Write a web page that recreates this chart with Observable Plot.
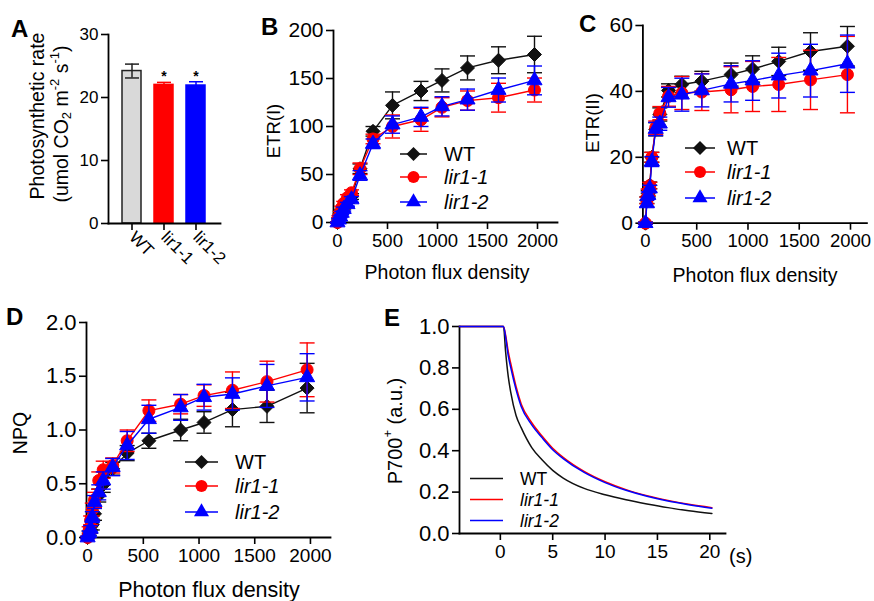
<!DOCTYPE html>
<html><head><meta charset="utf-8">
<script src="https://cdn.jsdelivr.net/npm/d3@7"></script>
<script src="https://cdn.jsdelivr.net/npm/@observablehq/plot@0.6"></script>
<style>
html,body{margin:0;padding:0;background:#fff;}
#fig{position:relative;width:874px;height:601px;overflow:hidden;background:#fff;}
</style></head><body><div id="fig"></div>
<script>
const W = 874, H = 601;
const FONT = "'Liberation Sans', Arial, Helvetica, sans-serif";

// ---- shared series info ----
const groups = ["WT", "lir1-1", "lir1-2"];
const colors = ["#111111", "#ff0000", "#0000ff"];
const symbols = ["diamond2", "circle", "triangle"];

// ---- Panel A: photosynthetic rate ----
const rateMean = [24.2, 22.0, 21.9];
const rateErr = [1.1, 0.4, 0.6];
const rateSig = ["", "*", "*"];
const barFill = ["#d9d9d9", "#ff0000", "#0000ff"];
const barStroke = ["#222222", "#ff0000", "#0000ff"];

// ---- Light curves (B, C, D) ----
const par = [0, 14, 27, 42, 62, 100, 140, 225, 355, 550, 835, 1045, 1300, 1610, 1970];

const etr1WT  = [0, 4, 8, 12, 16, 22, 27, 56, 95, 122, 137, 148, 161, 169, 175];
const etr1WTe = [0.5, 1, 1, 1.5, 2, 2, 3, 5, 5, 14, 10, 12, 12.5, 14, 19];
const etr1L1  = [0, 6, 10, 15, 20, 26, 31, 56, 87, 100, 107, 120, 127, 130, 138];
const etr1L1e = [0.5, 1, 1.5, 2, 2, 3, 3, 6, 5, 12, 12, 10, 10, 15, 12.5];
const etr1L2  = [0, 3, 6, 10, 14, 19, 24, 49, 82, 102, 110, 121, 128, 138, 148];
const etr1L2e = [0.5, 1, 1, 1.5, 2, 2, 3, 5, 5, 9, 10, 10, 11, 12.5, 15];

const etr2WT  = [0, 7, 9, 11.5, 20, 28.5, 33, 40.3, 42.1, 43.1, 45.1, 46.8, 49.1, 52.1, 53.7];
const etr2WTe = [0.3, 1, 1, 1, 1.5, 2, 2, 2, 2.5, 3, 3.5, 4, 4.3, 5.7, 6];
const etr2L1  = [0, 6.9, 9.4, 11.4, 20, 29, 33.4, 38.5, 39.5, 39.8, 40.5, 41.5, 42.1, 43.5, 45.1];
const etr2L1e = [0.3, 1, 1, 1, 1.5, 2, 2, 3, 5, 5.6, 7, 7.6, 8.2, 9, 11.6];
const etr2L2  = [0, 6, 8.5, 10.5, 18.7, 28.6, 30.2, 38.2, 39, 40.3, 42.3, 43.3, 44.8, 46.3, 48.4];
const etr2L2e = [0.3, 1, 1, 1, 1.5, 2, 2, 3, 5, 5, 5.5, 6, 6.8, 8, 8.7];

const npqWT  = [0, 0.04, 0.07, 0.12, 0.22, 0.39, 0.49, 0.64, 0.785, 0.90, 1.0, 1.07, 1.19, 1.22, 1.39];
const npqWTe = [0.01, 0.02, 0.03, 0.05, 0.06, 0.06, 0.07, 0.06, 0.07, 0.07, 0.1, 0.1, 0.16, 0.15, 0.23];
const npqL1  = [0, 0.07, 0.16, 0.26, 0.35, 0.53, 0.63, 0.67, 0.9, 1.18, 1.24, 1.32, 1.37, 1.45, 1.56];
const npqL1e = [0.01, 0.03, 0.04, 0.06, 0.07, 0.08, 0.08, 0.07, 0.1, 0.1, 0.09, 0.1, 0.17, 0.19, 0.25];
const npqL2  = [0, 0.04, 0.08, 0.19, 0.33, 0.42, 0.53, 0.655, 0.856, 1.10, 1.21, 1.305, 1.335, 1.41, 1.49];
const npqL2e = [0.01, 0.02, 0.03, 0.05, 0.06, 0.07, 0.08, 0.08, 0.13, 0.13, 0.12, 0.12, 0.15, 0.2, 0.22];

// ---- Panel E: P700+ reduction ----
const tE    = [-3.9, 0, 0.3, 0.5, 0.75, 1, 1.5, 2, 3, 4, 5, 6, 8, 10, 12, 14, 16, 18, 20.2];
const p700WT = [1, 1, 1, 0.88, 0.76, 0.68, 0.57, 0.51, 0.415, 0.355, 0.305, 0.268, 0.218, 0.187, 0.163, 0.143, 0.125, 0.11, 0.097];
const p700L1 = [1, 1, 1, 0.96, 0.88, 0.82, 0.71, 0.625, 0.535, 0.47, 0.412, 0.368, 0.30, 0.25, 0.212, 0.183, 0.16, 0.141, 0.125];
const p700L2 = [1, 1, 1, 0.95, 0.86, 0.80, 0.695, 0.612, 0.525, 0.462, 0.405, 0.362, 0.295, 0.246, 0.209, 0.18, 0.157, 0.139, 0.122];

const lightTicks = [0, 500, 1000, 1500, 2000];

// ---- helpers ----
const fig = document.getElementById("fig");
const capSymbol = {draw(ctx, size) { const w = Math.sqrt(size / Math.PI); ctx.moveTo(-w, 0); ctx.lineTo(w, 0); }};

function panel({left, right, top, bottom, x, y, marks}) {
  const svg = Plot.plot({
    width: W, height: H,
    marginLeft: left, marginRight: W - right, marginTop: top, marginBottom: H - bottom,
    x, y,
    color: {type: "identity"},
    style: {background: "transparent", fontFamily: FONT, fontSize: "18px", color: "black", overflow: "visible"},
    marks
  });
  svg.style.position = "absolute";
  svg.style.left = "0px";
  svg.style.top = "0px";
  fig.appendChild(svg);
}

function axisLines() {
  return [
    Plot.frame({anchor: "left", stroke: "black", strokeWidth: 1.8}),
    Plot.frame({anchor: "bottom", stroke: "black", strokeWidth: 1.8})
  ];
}

function seriesMarks(xs, ys, es, i) {
  const data = xs.map((x, k) => ({x, y: ys[k], e: es[k]}));
  const c = colors[i];
  return [
    Plot.ruleX(data, {x: "x", y1: d => d.y - d.e, y2: d => d.y + d.e, stroke: c, strokeWidth: 1.4}),
    Plot.dot(data, {x: "x", y: d => d.y + d.e, symbol: capSymbol, r: 7.5, stroke: c, fill: "none", strokeWidth: 1.4}),
    Plot.dot(data, {x: "x", y: d => d.y - d.e, symbol: capSymbol, r: 7.5, stroke: c, fill: "none", strokeWidth: 1.4}),
    Plot.line(data, {x: "x", y: "y", stroke: c, strokeWidth: 1.4}),
    Plot.dot(data, {x: "x", y: "y", symbol: symbols[i], r: i === 0 ? 6.3 : (i === 1 ? 6 : 5.6), fill: c, stroke: c, strokeWidth: 1})
  ];
}

function lightPanel(frame, ydomain, yticks, yfmt, yfs, sets) {
  panel({
    ...frame,
    x: {domain: frame.xdomain},
    y: {domain: ydomain},
    marks: [
      ...axisLines(),
      Plot.axisX({ticks: lightTicks, tickFormat: d3.format("d"), tickSize: 7, tickPadding: 4, label: null, strokeWidth: 1.6, fontSize: frame.xfs}),
      Plot.axisY({ticks: yticks, tickFormat: yfmt, tickSize: 7, tickPadding: 3, label: null, strokeWidth: 1.6, fontSize: yfs}),
      ...sets.flatMap(([ys, es], i) => seriesMarks(par, ys, es, i))
    ]
  });
}

// ---- Panel A ----
const dataA = groups.map((g, i) => ({g, v: rateMean[i], e: rateErr[i], sig: rateSig[i], fill: barFill[i], stroke: barStroke[i]}));
panel({
  left: 108, right: 220, top: 34, bottom: 223,
  x: {domain: groups, padding: 0.4},
  y: {domain: [0, 30]},
  marks: [
    Plot.barY(dataA, {x: "g", y: "v", fill: "fill", stroke: "stroke", strokeWidth: 1.5}),
    Plot.ruleX(dataA, {x: "g", y1: d => d.v - d.e, y2: d => d.v + d.e, stroke: "stroke", strokeWidth: 1.5}),
    Plot.dot(dataA, {x: "g", y: d => d.v + d.e, symbol: capSymbol, r: 7, stroke: "stroke", fill: "none", strokeWidth: 1.5}),
    Plot.dot(dataA, {x: "g", y: d => d.v - d.e, symbol: capSymbol, r: 7, stroke: "stroke", fill: "none", strokeWidth: 1.5}),
    Plot.text(dataA, {x: "g", y: d => d.v + d.e, text: "sig", dy: -1, lineAnchor: "bottom", fontSize: 14, fontWeight: "bold"}),
    ...axisLines(),
    Plot.axisX({tickRotate: 45, tickSize: 7, tickPadding: 4, label: null, strokeWidth: 1.6, fontSize: 17}),
    Plot.axisY({ticks: [0, 10, 20, 30], tickSize: 7, tickPadding: 3, label: null, strokeWidth: 1.6, fontSize: 17})
  ]
});

// ---- Panel B ----
lightPanel({left: 333, right: 557, top: 30, bottom: 222, xdomain: [-40, 2200], xfs: 18.5}, [0, 200], [0, 50, 100, 150, 200], d3.format("d"), 21,
  [[etr1WT, etr1WTe], [etr1L1, etr1L1e], [etr1L2, etr1L2e]]);

// ---- Panel C ----
lightPanel({left: 642.4, right: 866.4, top: 25, bottom: 222.7, xdomain: [-25, 2160], xfs: 18.5}, [0, 60], [0, 20, 40, 60], d3.format("d"), 21,
  [[etr2WT, etr2WTe], [etr2L1, etr2L1e], [etr2L2, etr2L2e]]);

// ---- Panel D ----
lightPanel({left: 86, right: 330, top: 322, bottom: 537, xdomain: [-10, 2180], xfs: 19}, [0, 2], [0, 0.5, 1, 1.5, 2], d3.format(".1f"), 22,
  [[npqWT, npqWTe], [npqL1, npqL1e], [npqL2, npqL2e]]);

// ---- Panel E ----
const dataE = tE.flatMap((t, k) => [
  {t, v: p700WT[k], s: 0}, {t, v: p700L1[k], s: 1}, {t, v: p700L2[k], s: 2}
]);
panel({
  left: 459, right: 725, top: 326, bottom: 533,
  x: {domain: [-3.9, 21.5]},
  y: {domain: [0, 1]},
  marks: [
    ...axisLines(),
    Plot.axisX({ticks: [0, 5, 10, 15, 20], tickSize: 7, tickPadding: 4, label: null, strokeWidth: 1.6, fontSize: 19}),
    Plot.axisY({ticks: [0, 0.2, 0.4, 0.6, 0.8, 1.0], tickFormat: d3.format(".1f"), tickSize: 7, tickPadding: 3, label: null, strokeWidth: 1.6, fontSize: 22}),
    ...[0, 1, 2].map(i => Plot.line(dataE.filter(d => d.s === i), {x: "t", y: "v", stroke: colors[i], strokeWidth: 1.5, curve: "monotone-x"}))
  ]
});

// ---- overlay: panel letters, axis titles, legends ----
const ov = d3.select(fig).append("svg")
  .attr("width", W).attr("height", H)
  .style("position", "absolute").style("left", "0px").style("top", "0px")
  .attr("font-family", FONT);

const letters = [["A", 11, 37], ["B", 261, 35], ["C", 579, 32], ["D", 6, 325], ["E", 384, 326]];
letters.forEach(([t, x, y]) => ov.append("text").attr("x", x).attr("y", y).attr("font-size", 24).attr("font-weight", "bold").text(t));

function vtitle(x, y, fs) {
  return ov.append("text").attr("transform", `translate(${x},${y}) rotate(-90)`)
    .attr("text-anchor", "middle").attr("dominant-baseline", "central").attr("font-size", fs);
}
function htitle(x, y, fs, txt) {
  ov.append("text").attr("x", x).attr("y", y).attr("text-anchor", "middle").attr("dominant-baseline", "central").attr("font-size", fs).text(txt);
}

// A
vtitle(37, 116, 19.5).text("Photosynthetic rate");
const a2 = vtitle(61, 124, 19.5);
a2.append("tspan").text("(umol CO");
a2.append("tspan").attr("font-size", 13).attr("dy", 5).text("2");
a2.append("tspan").attr("dy", -5).text(" m");
a2.append("tspan").attr("font-size", 13).attr("dy", -7).text("-2");
a2.append("tspan").attr("dy", 7).text(" s");
a2.append("tspan").attr("font-size", 13).attr("dy", -7).text("-1");
a2.append("tspan").attr("dy", 7).text(")");

// B, C, D, E
vtitle(273, 131, 18.5).text("ETR(I)");
vtitle(592, 123, 18.5).text("ETR(II)");
vtitle(20, 433, 19.5).text("NPQ");
const pe = vtitle(395, 431, 20);
pe.append("tspan").text("P700");
pe.append("tspan").attr("font-size", 13).attr("dy", -8).text("+");
pe.append("tspan").attr("dy", 8).text(" (a.u.)");

htitle(447, 272, 19.5, "Photon flux density");
htitle(755, 275, 19.5, "Photon flux density");
htitle(209, 590, 21.5, "Photon flux density");
ov.append("text").attr("x", 729).attr("y", 556).attr("dominant-baseline", "central").attr("font-size", 20).text("(s)");

const symbolTypes = [d3.symbolDiamond2, d3.symbolCircle, d3.symbolTriangle];
const symR = [6.3, 6, 5.6];
function legend({x1, x2, tx, ys, fs, markers}) {
  groups.forEach((g, i) => {
    const y = ys[i];
    ov.append("line").attr("x1", x1).attr("x2", x2).attr("y1", y).attr("y2", y).attr("stroke", colors[i]).attr("stroke-width", 1.5);
    if (markers) {
      ov.append("path").attr("d", d3.symbol(symbolTypes[i], symR[i] * symR[i] * Math.PI)())
        .attr("transform", `translate(${(x1 + x2) / 2},${y})`).attr("fill", colors[i]);
    }
    ov.append("text").attr("x", tx).attr("y", y).attr("dominant-baseline", "central")
      .attr("font-size", fs).attr("font-style", i ? "italic" : "normal").text(g);
  });
}
legend({x1: 400, x2: 427, tx: 444, ys: [154, 177, 202], fs: 20, markers: true});
legend({x1: 685, x2: 715, tx: 727, ys: [148, 172, 198], fs: 20, markers: true});
legend({x1: 185, x2: 218, tx: 235, ys: [462, 486, 512], fs: 20, markers: true});
legend({x1: 470, x2: 503, tx: 520, ys: [478.5, 499.5, 520.5], fs: 17.5, markers: false});
</script></body></html>
